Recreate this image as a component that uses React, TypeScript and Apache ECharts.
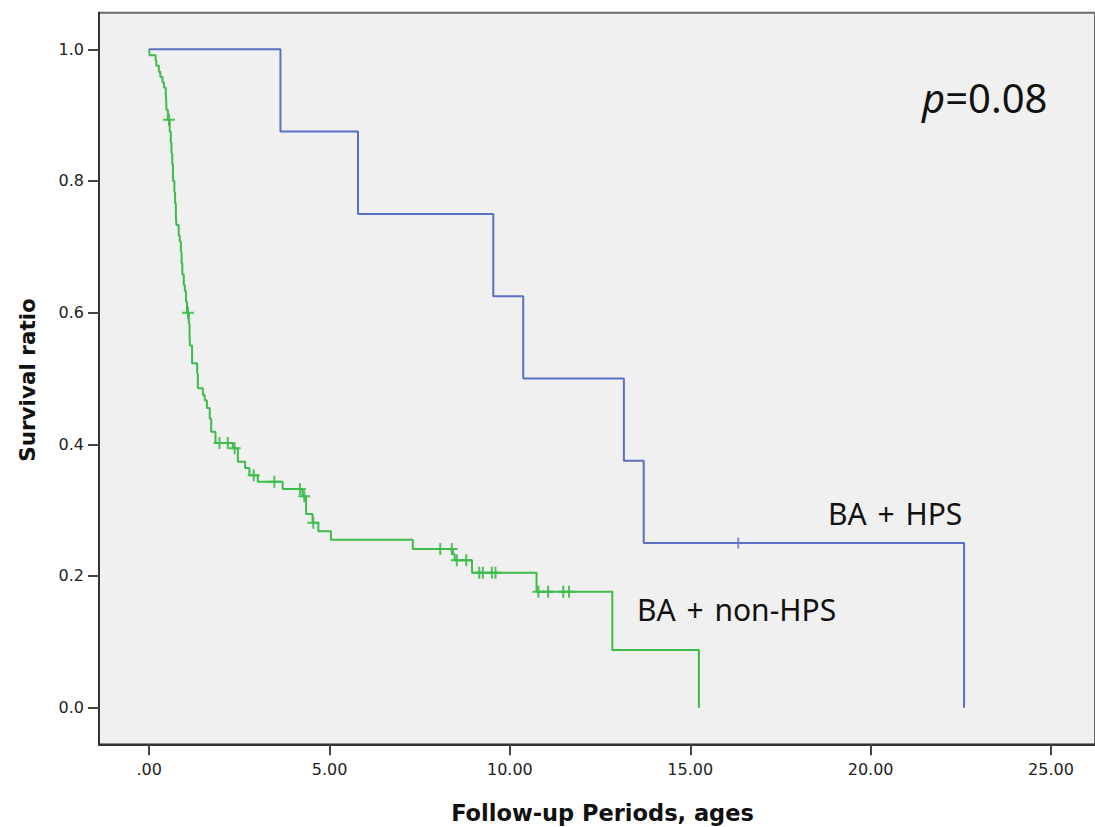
import React, { useEffect, useRef } from "react";
import * as echarts from "echarts";

// Kaplan-Meier step data: time of drop (years) and survival after the drop
const hpsTimes = [0, 3.64, 5.79, 9.54, 10.37, 13.16, 13.71, 22.59];
const hpsSurv = [1.0, 0.875, 0.75, 0.625, 0.5, 0.375, 0.25, 0.0];
const hpsCensor = [16.33];

const nonTimes = [
  0, 0.01, 0.18, 0.2, 0.27, 0.31, 0.37, 0.41, 0.46, 0.47, 0.48, 0.52, 0.57, 0.6, 0.62, 0.64, 0.66, 0.7,
  0.72, 0.74, 0.755, 0.82, 0.85, 0.88, 0.9, 0.92, 0.96, 0.99, 1.02, 1.05, 1.1, 1.12, 1.13, 1.19, 1.33,
  1.35, 1.49, 1.54, 1.6, 1.68, 1.72, 1.84, 2.32, 2.46, 2.66, 2.78, 3.01, 3.7, 4.25, 4.35, 4.53, 4.69,
  5.04, 7.31, 8.42, 8.47, 8.95, 10.74, 12.84, 15.24,
];
const nonSurv = [
  1.0, 0.991, 0.983, 0.975, 0.966, 0.958, 0.95, 0.942, 0.933, 0.925, 0.908, 0.893, 0.875, 0.858, 0.842,
  0.825, 0.8, 0.783, 0.766, 0.75, 0.733, 0.717, 0.708, 0.692, 0.675, 0.658, 0.642, 0.633, 0.617, 0.6,
  0.583, 0.567, 0.55, 0.523, 0.508, 0.485, 0.475, 0.467, 0.455, 0.439, 0.419, 0.402, 0.394, 0.3735,
  0.364, 0.353, 0.343, 0.332, 0.321, 0.294, 0.281, 0.268, 0.255, 0.241, 0.233, 0.224, 0.205, 0.176,
  0.0875, 0.0,
];
const nonCensor = [
  0.55, 1.077, 1.95, 2.18, 2.37, 2.9, 3.47, 4.18, 4.3, 4.55, 8.07, 8.39, 8.53, 8.79, 9.15, 9.25, 9.5,
  9.6, 10.79, 11.06, 11.48, 11.64,
];

const xTicks = [0, 5, 10, 15, 20, 25];
const yTicks = [0, 0.2, 0.4, 0.6, 0.8, 1.0];

const GREEN = "#3dbb4b";
const BLUE = "#5b6fc4";
const PLUS = "path://M5,0H7V5H12V7H7V12H5V7H0V5H5Z";

function survivalAt(times: number[], surv: number[], t: number): number {
  let s = surv[0];
  for (let i = 0; i < times.length; i++) {
    if (times[i] <= t) s = surv[i];
  }
  return s;
}

export default function App() {
  const ref = useRef<HTMLDivElement>(null);
  useEffect(() => {
    if (!ref.current) return;
    const chart = echarts.init(ref.current, undefined, { renderer: "svg" });
    const tickFont = { fontFamily: "DejaVu Sans", fontSize: 16, color: "#222" };
    chart.setOption({
      animation: false,
      backgroundColor: "#ffffff",
      grid: {
        left: 99,
        top: 12.7,
        width: 1000,
        height: 731.6,
        show: true,
        backgroundColor: "#f0f0f0",
        borderColor: "#6a6a6a",
        borderWidth: 2,
      },
      xAxis: {
        type: "value",
        min: -1.39,
        max: 26.22,
        axisLine: { show: true, onZero: false, lineStyle: { color: "#333", width: 2 } },
        axisTick: { show: true, customValues: xTicks, length: 11, lineStyle: { color: "#444", width: 2 } },
        axisLabel: {
          customValues: xTicks,
          margin: 17,
          ...tickFont,
          formatter: (v: number) => (v === 0 ? ".00" : v.toFixed(2)),
        },
        splitLine: { show: false },
      },
      yAxis: {
        type: "value",
        min: -0.0557,
        max: 1.0556,
        axisLine: { show: true, onZero: false, lineStyle: { color: "#333", width: 2 } },
        axisTick: { show: true, customValues: yTicks, length: 11, lineStyle: { color: "#444", width: 2 } },
        axisLabel: {
          customValues: yTicks,
          margin: 15,
          ...tickFont,
          formatter: (v: number) => v.toFixed(1),
        },
        splitLine: { show: false },
      },
      series: [
        {
          type: "line",
          step: "end",
          showSymbol: false,
          data: nonTimes.map((t, i) => [t, nonSurv[i]]),
          lineStyle: { color: GREEN, width: 2 },
          z: 2,
        },
        {
          type: "scatter",
          symbol: PLUS,
          symbolSize: 12,
          data: nonCensor.map((t) => [t, survivalAt(nonTimes, nonSurv, t)]),
          itemStyle: { color: GREEN, opacity: 0.9 },
          z: 3,
        },
        {
          type: "line",
          step: "end",
          showSymbol: false,
          data: hpsTimes.map((t, i) => [t, hpsSurv[i]]),
          lineStyle: { color: BLUE, width: 2 },
          z: 4,
        },
        {
          type: "scatter",
          symbol: PLUS,
          symbolSize: 11,
          data: hpsCensor.map((t) => [t, survivalAt(hpsTimes, hpsSurv, t)]),
          itemStyle: { color: BLUE },
          z: 5,
        },
      ],
      graphic: [
        {
          type: "text",
          x: 602.5,
          y: 813,
          style: {
            text: "Follow-up Periods, ages",
            font: "bold 22.5px 'DejaVu Sans'",
            fill: "#111",
            align: "center",
            verticalAlign: "middle",
          },
        },
        {
          type: "text",
          x: 27,
          y: 380,
          rotation: Math.PI / 2,
          style: {
            text: "Survival ratio",
            font: "bold 21.5px 'DejaVu Sans'",
            fill: "#111",
            align: "center",
            verticalAlign: "middle",
          },
        },
        {
          type: "text",
          x: 922,
          y: 97.5,
          style: {
            text: "{i|p}=0.08",
            font: "40px 'Noto Sans'",
            fill: "#111",
            align: "left",
            verticalAlign: "middle",
            rich: { i: { fontStyle: "italic", fontSize: 40, fontFamily: "Noto Sans", fill: "#111" } },
          },
        },
        {
          type: "text",
          x: 828,
          y: 513.5,
          style: {
            text: "BA \u200A+\u200A HPS",
            font: "30px 'Noto Sans'",
            fill: "#111",
            align: "left",
            verticalAlign: "middle",
          },
        },
        {
          type: "text",
          x: 637,
          y: 609.5,
          style: {
            text: "BA \u200A+\u200A non-HPS",
            font: "30px 'Noto Sans'",
            fill: "#111",
            align: "left",
            verticalAlign: "middle",
          },
        },
      ],
    });
    return () => chart.dispose();
  }, []);
  return (
    <div
      ref={ref}
      style={{ position: "absolute", left: 0, top: 0, width: 1095, height: 827 }}
    />
  );
}
